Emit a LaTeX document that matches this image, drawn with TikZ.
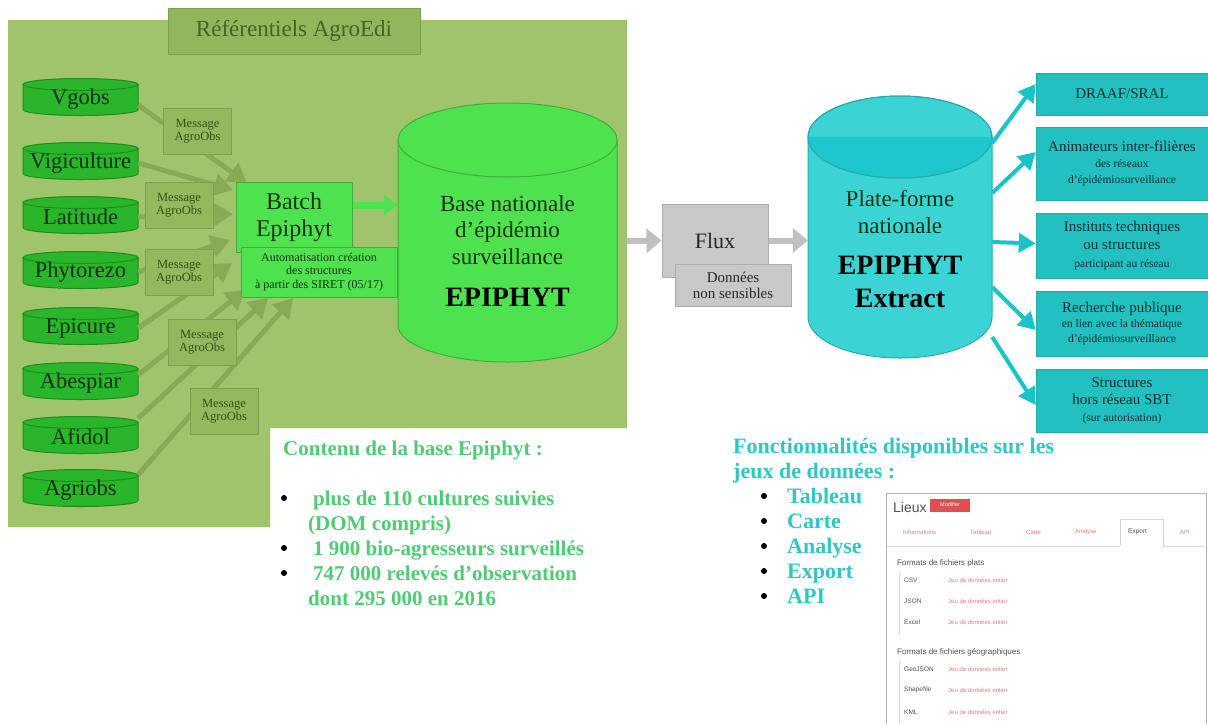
\documentclass[tikz,border=0pt]{standalone}
\usepackage{fontspec}
\setmainfont{Liberation Serif}
\setsansfont{Liberation Sans}
\usetikzlibrary{arrows.meta,calc}
\definecolor{panel}{RGB}{160,196,108}
\definecolor{titlefill}{RGB}{145,182,92}
\definecolor{titledraw}{RGB}{122,160,78}
\definecolor{titletext}{RGB}{70,100,35}
\definecolor{cylfill}{RGB}{42,182,42}
\definecolor{cyldraw}{RGB}{30,140,30}
\definecolor{cyltext}{RGB}{15,45,10}
\definecolor{msgfill}{RGB}{148,184,94}
\definecolor{msgdraw}{RGB}{125,160,80}
\definecolor{msgtext}{RGB}{50,82,18}
\definecolor{olivearrow}{RGB}{136,170,84}
\definecolor{bright}{RGB}{78,226,78}
\definecolor{brightdraw}{RGB}{60,175,60}
\definecolor{darktext}{RGB}{20,50,15}
\definecolor{grayfill}{RGB}{200,200,200}
\definecolor{graydraw}{RGB}{172,172,172}
\definecolor{grayarrow}{RGB}{192,192,192}
\definecolor{graytext}{RGB}{40,40,40}
\definecolor{cyanfill}{RGB}{58,212,212}
\definecolor{cyanlow}{RGB}{28,200,204}
\definecolor{cyandraw}{RGB}{40,170,170}
\definecolor{cyanbox}{RGB}{34,192,192}
\definecolor{cyanarrow}{RGB}{24,196,200}
\definecolor{cyantext}{RGB}{15,45,45}
\definecolor{contgreen}{RGB}{78,204,115}
\definecolor{fonccyan}{RGB}{48,198,198}
\definecolor{shotred}{RGB}{222,80,80}
\definecolor{shotpink}{RGB}{232,120,120}
\definecolor{shotgray}{RGB}{80,80,80}
\definecolor{shotframe}{RGB}{175,182,200}
\definecolor{shotline}{RGB}{215,215,215}

\newcommand{\mycyl}[7]{%
  \filldraw[fill=#6,draw=#7,line width=1pt] ({#1-#4},#2) -- ({#1-#4},#3)
    arc[start angle=180,end angle=0,x radius=#4,y radius=#5] -- ({#1+#4},#2) -- cycle;
  \filldraw[fill=#6,draw=#7,line width=1pt] (#1,#2) ellipse[x radius=#4,y radius=#5];
}

\begin{document}
\begin{tikzpicture}[x=1pt,y=-1pt,
  cyltxt/.style={minimum width=115pt,minimum height=37pt,inner sep=0pt,font=\fontsize{22.5}{25}\selectfont,text=cyltext},
  titlebox/.style={draw=titledraw,fill=titlefill,line width=1pt,minimum width=252pt,minimum height=46pt,inner sep=0pt,font=\fontsize{23}{25}\selectfont,text=titletext},
  msgbox/.style={draw=msgdraw,fill=msgfill,line width=1pt,minimum width=68pt,minimum height=46pt,inner sep=0pt,align=center,font=\fontsize{12.5}{13}\selectfont,text=msgtext},
  oarrow/.style={draw=olivearrow,line width=5pt,-{Triangle[length=19pt,width=22pt]}},
  batchbox/.style={draw=brightdraw,fill=bright,line width=1pt,minimum width=116pt,minimum height=70pt,inner sep=0pt,align=center,font=\fontsize{24}{27}\selectfont,text=darktext},
  autobox/.style={draw=brightdraw,fill=bright,line width=1pt,minimum width=156pt,minimum height=50pt,inner sep=0pt,align=center,font=\fontsize{12}{13.5}\selectfont,text=darktext},
  bigtxt/.style={inner sep=0pt,align=center,font=\fontsize{23}{26.5}\selectfont,text=darktext},
  bigbold/.style={inner sep=0pt,align=center,font=\fontsize{28}{30}\selectfont\bfseries,text=black},
  garrow/.style={draw=bright,line width=7pt,-{Triangle[length=14pt,width=20pt]}},
  grarrow/.style={draw=grayarrow,line width=6pt,-{Triangle[length=15pt,width=24pt]}},
  fluxbox/.style={draw=graydraw,fill=grayfill,line width=1pt,minimum width=106pt,minimum height=73pt,inner sep=0pt,font=\fontsize{22}{24}\selectfont,text=graytext},
  donbox/.style={draw=graydraw,fill=grayfill,line width=1pt,minimum width=116pt,minimum height=42pt,inner sep=0pt,align=center,font=\fontsize{15}{16}\selectfont,text=graytext},
  carrow/.style={draw=cyanarrow,line width=4pt,-{Triangle[length=17pt,width=19pt]}},
  rbox/.style={fill=cyanbox,draw=cyandraw,line width=0.6pt,minimum width=172pt,inner sep=0pt,align=center,text=cyantext},
  conttxt/.style={inner sep=0pt,anchor=base west,font=\fontsize{21}{25}\selectfont\bfseries,text=contgreen},
  foncttxt/.style={inner sep=0pt,anchor=base west,font=\fontsize{22}{25}\selectfont\bfseries,text=fonccyan},
  bul/.style={circle,fill=black,inner sep=0pt,minimum size=6pt},
  shottxt/.style={inner sep=0pt,anchor=west,font=\sffamily\fontsize{6.5}{7}\selectfont,text=shotgray},
  shotlink/.style={inner sep=0pt,anchor=west,font=\sffamily\fontsize{6}{7}\selectfont,text=shotpink},
  shothead/.style={inner sep=0pt,anchor=west,font=\sffamily\fontsize{8}{9}\selectfont,text=shotgray}
]
\fill[white] (0,0) rectangle (1208,724);
\useasboundingbox (0,0) rectangle (1208,724);

% panel
\fill[panel] (8,20) -- (627,20) -- (627,428) -- (270,428) -- (270,527) -- (8,527) -- cycle;
\node[titlebox] (title) at (294,31) {Référentiels AgroEdi};

% small cylinders
\foreach \n/\c/\t in {vgobs/97/Vgobs, vigi/161/Vigiculture, lat/215/Latitude, phyto/270/Phytorezo, epi/326/Epicure, abes/381/Abespiar, afi/435/Afidol, agri/488/Agriobs} {
  \mycyl{80.5}{\c-12.5}{\c+12.5}{57.5}{6}{cylfill}{cyldraw}
  \node[cyltxt] (\n) at (80.5,\c+2) {\t};
}

% olive arrows
\coordinate (t1) at (247,183);
\coordinate (t2) at (233,190);
\coordinate (t3) at (233,214);
\coordinate (t4) at (230,240);
\coordinate (t5) at (232,263);
\coordinate (t6) at (245,290);
\coordinate (t7) at (268,298);
\coordinate (t8) at (293,298);
\draw[oarrow] (vgobs.-6) -- (t1);
\draw[oarrow] (vigi.east) -- (t2);
\draw[oarrow] (lat.east) -- (t3);
\draw[oarrow] (phyto.east) -- (t4);
\draw[oarrow] (epi.east) -- (t5);
\draw[oarrow] (abes.8) -- (t6);
\draw[oarrow] (afi.north east) -- (t7);
\draw[oarrow] (agri.15) -- (t8);

% messages
\node[msgbox] (m1) at (197.5,131) {Message\\AgroObs};
\node[msgbox] (m2) at (179,205) {Message\\AgroObs};
\node[msgbox] (m3) at (179,272.5) {Message\\AgroObs};
\node[msgbox] (m4) at (202,342) {Message\\AgroObs};
\node[msgbox] (m5) at (224,411) {Message\\AgroObs};

% batch
\node[batchbox] (batch) at (294,217) {Batch\\Epiphyt};
\node[autobox] (auto) at (319,272) {Automatisation création\\des structures\\à partir des SIRET (05/17)};

% base cylinder
\mycyl{507.5}{140}{325}{109.5}{37}{bright}{brightdraw}
\node[minimum width=219pt,minimum height=259pt,inner sep=0pt] (base) at (507.5,232.5) {};
\node[bigtxt] (basetext) at (507.5,230) {Base nationale\\d’épidémio\\surveillance};
\node[bigbold] (baseepi) at (507.5,297) {EPIPHYT};
\draw[garrow] ([yshift=12pt]batch.east) -- ([yshift=12pt]batch.east -| base.west);

% flux
\coordinate (pe) at (627,241);
\node[fluxbox] (flux) at (715,240.5) {Flux};
\node[donbox] (don) at (733,285) {Données\\non sensibles};
\draw[grarrow] (pe) -- (flux.west);

% cyan cylinder
\mycyl{900}{137}{317}{92}{41}{cyanfill}{cyandraw}
\fill[cyanlow] (808,137) arc[start angle=180,end angle=0,x radius=92,y radius=41] -- cycle;
\draw[cyandraw,line width=1pt] (900,137) ellipse[x radius=92,y radius=41];
\node[minimum width=184pt,minimum height=263pt,inner sep=0pt] (plat) at (900,226.5) {};
\node[bigtxt] (plattext) at (900,212) {Plate-forme\\nationale};
\node[bigbold] (platepi) at (900,265) {EPIPHYT};
\node[bigbold] (platext) at (900,298) {Extract};
\draw[grarrow] (flux.east) -- (flux.east -| plat.west);

% right boxes
\node[rbox,minimum height=42pt,font=\fontsize{15}{17}\selectfont] (rb1) at (1122,94) {DRAAF/SRAL};
\node[rbox,minimum height=73pt,font=\fontsize{11.5}{16}\selectfont] (rb2) at (1122,163.5) {{\fontsize{15}{16}\selectfont Animateurs inter-filières}\\des réseaux\\d’épidémiosurveillance};
\node[rbox,minimum height=65pt,font=\fontsize{11.5}{18}\selectfont] (rb3) at (1122,245.5) {{\fontsize{15}{16}\selectfont Instituts techniques}\\{\fontsize{15}{16}\selectfont ou structures}\\participant au réseau};
\node[rbox,minimum height=65pt,font=\fontsize{11.5}{15}\selectfont] (rb4) at (1122,323.5) {{\fontsize{15}{16}\selectfont Recherche publique}\\en lien avec la thématique\\d’épidémiosurveillance};
\node[rbox,minimum height=63pt,font=\fontsize{11.5}{17}\selectfont] (rb5) at (1122,400.5) {{\fontsize{15}{16}\selectfont Structures}\\{\fontsize{15}{16}\selectfont hors réseau SBT}\\(sur autorisation)};

\draw[carrow] ([yshift=83.5pt]plat.east) -- ([yshift=10pt]rb1.west);
\draw[carrow] ([yshift=33.5pt]plat.east) -- ([yshift=11.5pt]rb2.west);
\draw[carrow] ([yshift=-15.5pt]plat.east) -- ([yshift=2pt]rb3.west);
\draw[carrow] ([yshift=-60.5pt]plat.east) -- ([yshift=-6.5pt]rb4.west);
\draw[carrow] ([yshift=-110.5pt]plat.east) -- ([yshift=-4.5pt]rb5.west);

% contenu
\node[conttxt] (c0) at (283,455) {Contenu de la base Epiphyt :};
\node[bul] (cb1) at (284,498) {};
\node[bul] (cb2) at (284,548) {};
\node[bul] (cb3) at (284,573) {};
\node[conttxt] (c1) at (313,505) {plus de 110 cultures suivies};
\node[conttxt] (c2) at (308,530) {(DOM compris)};
\node[conttxt] (c3) at (313,555) {1 900 bio-agresseurs surveillés};
\node[conttxt] (c4) at (313,580) {747 000 relevés d'observation};
\node[conttxt] (c5) at (308,605) {dont 295 000 en 2016};

% fonctionnalites
\node[foncttxt] (f0) at (733,453) {Fonctionnalités disponibles sur les};
\node[foncttxt] (f00) at (733,478) {jeux de données :};
\foreach \y/\t [count=\i] in {496/Tableau, 521/Carte, 546/Analyse, 571/Export, 596/API} {
  \node[bul] (fb\i) at (764,\y) {};
  \node[foncttxt] (ft\i) at (787,\y+7) {\t};
}

% screenshot
\fill[white] (886,493) rectangle (1206,724);
\draw[shotframe,line width=1pt] (886,724) -- (886,493) -- (1206,493) -- (1206,724);
\node[inner sep=0pt,anchor=west,font=\sffamily\fontsize{14}{15}\selectfont,text=shotgray] (lieux) at (893,507) {Lieux};
\node[fill=shotred,inner sep=1.5pt,minimum width=40pt,minimum height=13pt,text=white,font=\sffamily\fontsize{5.5}{6}\selectfont] (modif) at (950,505) {Modifier};
\draw[shotline,line width=0.8pt] (887,546) -- (1120,546) (1163,546) -- (1205,546);
\draw[shotline,line width=0.8pt] (1120,546) -- (1120,519) -- (1163,519) -- (1163,546);
\node[shotlink] (tab1) at (903,532) {Informations};
\node[shotlink] (tab2) at (970,532) {Tableau};
\node[shotlink] (tab3) at (1026,532) {Carte};
\node[shotlink] (tab4) at (1075,532) {Analyse};
\node[shottxt] (tab5) at (1128,532) {Export};
\node[shotlink] (tab6) at (1180,532) {API};
\node[shothead] (fp) at (897,563) {Formats de fichiers plats};
\draw[shotline,line width=0.6pt] (899,572) -- (899,634);
\node[shottxt] (csv) at (904,580) {CSV};
\node[shottxt] (json) at (904,601) {JSON};
\node[shottxt] (xls) at (904,622) {Excel};
\node[shothead] (fg) at (897,652) {Formats de fichiers géographiques};
\draw[shotline,line width=0.6pt] (899,661) -- (899,724);
\node[shottxt] (geo) at (904,669) {GeoJSON};
\node[shottxt] (shp) at (904,690) {Shapefile};
\node[shottxt] (kml) at (904,712) {KML};
\foreach \y [count=\i] in {580,601,622,669,690,712} {
  \node[shotlink] (lk\i) at (948,\y) {Jeu de données entier};
}
\end{tikzpicture}
\end{document}
